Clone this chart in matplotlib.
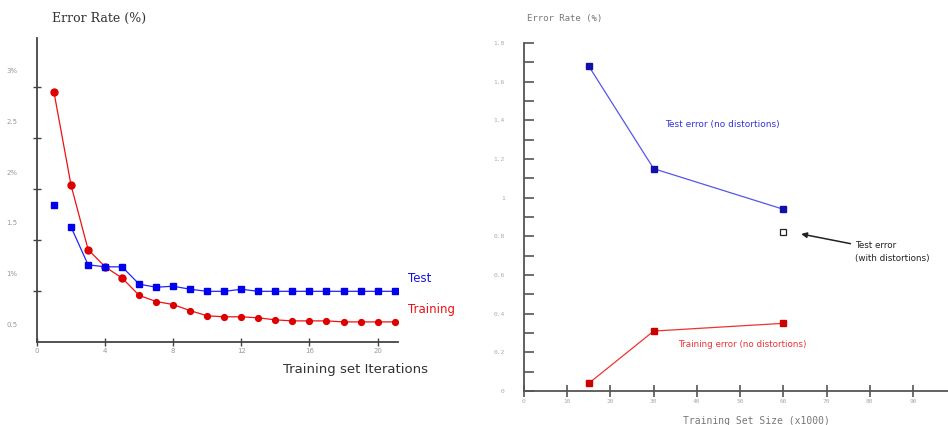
import matplotlib
matplotlib.use('Agg')
import matplotlib.pyplot as plt
from matplotlib.ticker import FixedLocator

# Левый график: кривые обучения
iterations = list(range(1, 22))
train_err = [2.78, 1.87, 1.24, 1.07, 0.96, 0.79, 0.73, 0.70, 0.64, 0.59, 0.58,
             0.58, 0.57, 0.55, 0.54, 0.54, 0.54, 0.53, 0.53, 0.53, 0.53]
test_err = [1.68, 1.46, 1.09, 1.07, 1.07, 0.90, 0.87, 0.88, 0.85, 0.83, 0.83,
            0.85, 0.83, 0.83, 0.83, 0.83, 0.83, 0.83, 0.83, 0.83, 0.83]
left_ytick_vals = [3.0, 2.5, 2.0, 1.5, 1.0, 0.5]
left_ytick_labels = ['3%', '2.5', '2%', '1.5', '1%', '0.5']
left_xticks = [0, 4, 8, 12, 16, 20]

# Правый график: ошибка от размера обучающей выборки
sizes = [15, 30, 60]
test_nodist = [1.68, 1.15, 0.94]
train_nodist = [0.04, 0.31, 0.35]
distort_size = [60]
test_dist = [0.82]
right_yticks = [0, 0.2, 0.4, 0.6, 0.8, 1.0, 1.2, 1.4, 1.6, 1.8]
right_ytick_labels = ['0', '0.2', '0.4', '0.6', '0.8', '1', '1.2', '1.4', '1.6', '1.8']
right_xticks = [0, 10, 20, 30, 40, 50, 60, 70, 80, 90]

fig = plt.figure(figsize=(9.48, 4.25), dpi=100)
W, H = 948, 425

# ---------- левый ----------
ax1 = fig.add_axes([37 / W, 1 - 342 / H, (398 - 37) / W, (342 - 38) / H])
ax1.plot(iterations[:5], train_err[:5], color='#ee1111', lw=0.9, marker='o', ms=5,
         mfc='#dd0000', mec='#dd0000')
ax1.plot(iterations[4:], train_err[4:], color='#ee1111', lw=0.9, marker='o', ms=4.2,
         mfc='#dd0000', mec='#dd0000')
ax1.plot(iterations[1:], test_err[1:], color='#2222ff', lw=0.9, marker='s', ms=5,
         mfc='#0000ee', mec='#0000ee')
ax1.plot(iterations[:1], test_err[:1], ls='none', marker='s', ms=5,
         mfc='#0000ee', mec='#0000ee')
ax1.set_xlim(0, 21.2)
ax1.set_ylim(0.333, 3.314)
for s in ['top', 'right']:
    ax1.spines[s].set_visible(False)
for s in ['left', 'bottom']:
    ax1.spines[s].set_color('#444444')
    ax1.spines[s].set_linewidth(1.3)
ax1.set_xticks(left_xticks)
ax1.set_xticklabels([str(v) for v in left_xticks], fontsize=5, color='#999999')
ax1.tick_params(axis='x', direction='inout', length=6, width=1, color='#444444', pad=1)
ax1.set_yticks(left_ytick_vals)
ax1.set_yticklabels(left_ytick_labels, fontsize=5, color='#999999')
ax1.tick_params(axis='y', which='major', length=0, pad=14)
ax1.yaxis.set_minor_locator(FixedLocator([v - 0.165 for v in left_ytick_vals[:-1]]))
ax1.tick_params(axis='y', which='minor', direction='inout', length=6, width=1, color='#444444')
ax1.set_facecolor('none')

fig.text(52 / W, 1 - 18 / H, 'Error Rate (%)', family='DejaVu Serif', fontsize=9,
         color='#333333', va='center', ha='left')
fig.text(283 / W, 1 - 369 / H, 'Training set Iterations', family='DejaVu Sans', fontsize=9.5,
         color='#333333', va='center', ha='left')
fig.text(408 / W, 1 - 278 / H, 'Test', fontsize=8.5, color='#1111ee', va='center', ha='left')
fig.text(408 / W, 1 - 310 / H, 'Training', fontsize=8.5, color='#ee1111', va='center', ha='left')

# ---------- правый ----------
ax2 = fig.add_axes([524 / W, 1 - 391 / H, 1 - 524 / W, (391 - 43) / H])
ax2.plot(sizes, test_nodist, color='#5555ee', lw=0.9, marker='s', ms=5,
         mfc='#1111aa', mec='#1111aa')
ax2.plot(sizes, train_nodist, color='#ee3333', lw=0.9, marker='s', ms=5,
         mfc='#cc0000', mec='#cc0000')
ax2.plot(distort_size, test_dist, ls='none', marker='s', ms=5, mfc='white', mec='#222222', mew=0.9)
ax2.set_xlim(0, 98.1)
ax2.set_ylim(0, 1.8)
for s in ['top', 'right']:
    ax2.spines[s].set_visible(False)
for s in ['left', 'bottom']:
    ax2.spines[s].set_color('#555555')
    ax2.spines[s].set_linewidth(1.3)
ax2.set_yticks(right_yticks)
ax2.set_yticklabels(right_ytick_labels, fontsize=4.5, color='#aaaaaa', family='DejaVu Sans Mono')
ax2.yaxis.set_minor_locator(FixedLocator([v + 0.1 for v in right_yticks[:-1]]))
ax2.tick_params(axis='y', which='both', direction='in', length=7, width=1.2,
                color='#555555', pad=14)
ax2.set_xticks(right_xticks)
ax2.set_xticklabels([str(v) for v in right_xticks], fontsize=4.5, color='#aaaaaa',
                    family='DejaVu Sans Mono')
ax2.tick_params(axis='x', direction='inout', length=8, width=1.2, color='#555555', pad=2)
ax2.set_facecolor('none')

ax2.text(46, 1.38, 'Test error (no distortions)', fontsize=6.5, color='#3333dd',
         ha='center', va='center')
ax2.text(50.5, 0.24, 'Training error (no distortions)', fontsize=6.3, color='#ee3333',
         ha='center', va='center')
ax2.annotate('Test error\n(with distortions)', xy=(63.5, 0.815), xytext=(76.5, 0.72),
             fontsize=6.3, color='#222222', ha='left', va='center', linespacing=1.6,
             arrowprops=dict(arrowstyle='-|>', color='#222222', lw=1.1,
                             shrinkA=1, shrinkB=2, mutation_scale=8))

fig.text(527 / W, 1 - 18 / H, 'Error Rate (%)', family='DejaVu Sans Mono', fontsize=6.5,
         color='#777777', va='center', ha='left')
fig.text(683 / W, 1 - 421 / H, 'Training Set Size (x1000)', family='DejaVu Sans Mono',
         fontsize=7, color='#777777', va='center', ha='left')

fig.savefig('out.png', dpi=100, facecolor='white')
